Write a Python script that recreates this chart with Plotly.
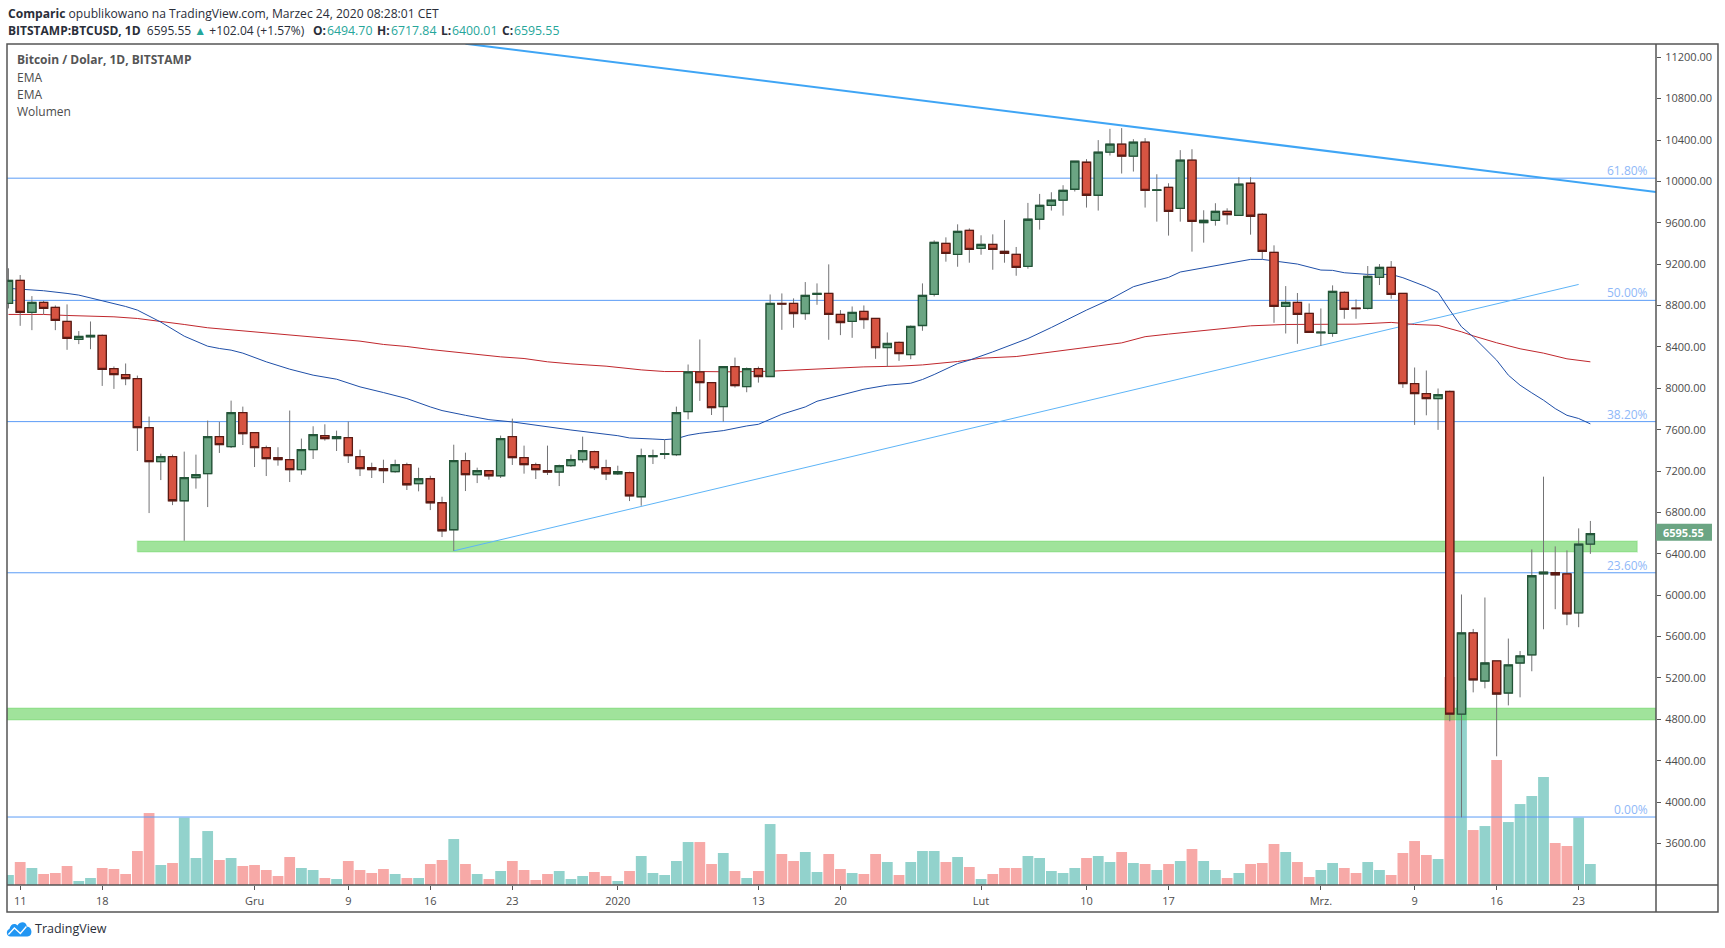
import pandas as pd
import plotly.graph_objects as go

# Dzienne dane BTCUSD, od 10 listopada 2019
dates = pd.date_range("2019-11-10", "2020-03-24", freq="D").strftime("%Y-%m-%d").tolist()

opens = [
    8820, 9043, 8733, 8830, 8782, 8646, 8472, 8498, 8511, 8191, 8133, 8094, 7620, 7291, 7339, 6913,
    7136, 7175, 7533, 7436, 7765, 7572, 7427, 7330, 7310, 7213, 7407, 7543, 7514, 7523, 7339, 7233,
    7223, 7194, 7262, 7078, 7126, 6894, 6633, 7301, 7165, 7204, 7155, 7533, 7330, 7262, 7204, 7191,
    7252, 7310, 7387, 7233, 7174, 7184, 6952, 7339, 7362, 7358, 7775, 8159, 8055, 7823, 8210, 8017,
    8191, 8114, 8820, 8820, 8723, 8907, 8917, 8714, 8646, 8743, 8675, 8394, 8443, 8326, 8607, 8907,
    9401, 9295, 9527, 9353, 9391, 9324, 9295, 9179, 9634, 9769, 9818, 9924, 10185, 9866, 10282, 10360,
    10244, 10379, 9914, 9943, 9740, 10205, 9601, 9624, 9711, 9672, 9982, 9682, 9314, 8791, 8830, 8724,
    8537, 8530, 8927, 8775, 8772, 9072, 9169, 8917, 8046, 7949, 7901, 7969, 4851, 5636, 5171, 5365,
    5055, 5345, 5423, 6207, 6217, 6207, 5829, 6494.70,
]
highs = [
    9160, 9095, 8891, 8846, 8801, 8811, 8553, 8646, 8520, 8211, 8240, 8123, 7727, 7368, 7359, 7388,
    7359, 7688, 7675, 7881, 7823, 7572, 7446, 7430, 7785, 7514, 7633, 7652, 7591, 7678, 7407, 7281,
    7310, 7310, 7281, 7233, 7155, 6952, 7455, 7378, 7233, 7204, 7543, 7707, 7446, 7281, 7446, 7262,
    7359, 7533, 7397, 7310, 7252, 7194, 7417, 7407, 7504, 7823, 8230, 8472, 8055, 8210, 8297, 8201,
    8210, 8907, 8917, 8869, 9027, 9014, 9198, 8756, 8791, 8801, 8675, 8540, 8452, 8607, 9014, 9430,
    9459, 9585, 9546, 9479, 9488, 9627, 9366, 9792, 9879, 9895, 9963, 10195, 10215, 10399, 10508, 10515,
    10408, 10418, 10069, 9982, 10302, 10311, 9721, 9789, 9740, 10040, 10040, 9692, 9382, 8988, 8921, 8820,
    8772, 8995, 8937, 8859, 9182, 9201, 9230, 8917, 8201, 8172, 7998, 7978, 6007, 5674, 5978, 5365,
    5581, 5461, 6443, 7146, 6472, 6433, 6646, 6717.84,
]
lows = [
    8772, 8604, 8562, 8714, 8562, 8372, 8427, 8378, 8023, 7994, 8030, 7394, 6794, 7113, 6871, 6526,
    7030, 6852, 7375, 7423, 7452, 7239, 7152, 7252, 7094, 7165, 7317, 7494, 7394, 7278, 7152, 7133,
    7084, 7184, 7017, 7004, 6823, 6562, 6429, 7007, 7084, 7117, 7133, 7259, 7175, 7123, 7162, 7055,
    7240, 7281, 7210, 7113, 7162, 6910, 6865, 7268, 7316, 7345, 7700, 7878, 7742, 7678, 8007, 7962,
    8055, 8114, 8565, 8585, 8662, 8807, 8469, 8514, 8488, 8575, 8285, 8210, 8265, 8281, 8556, 8888,
    9224, 9175, 9214, 9291, 9146, 9214, 9088, 9156, 9534, 9718, 9669, 9902, 9747, 9718, 10250, 10076,
    10095, 9747, 9611, 9476, 9611, 9321, 9408, 9572, 9582, 9672, 9485, 9250, 8633, 8530, 8430, 8540,
    8411, 8498, 8672, 8672, 8762, 8998, 8866, 8004, 7646, 7739, 7598, 4782, 3853, 5061, 5100, 4443,
    4935, 5013, 5265, 5671, 5865, 5710, 5691, 6400.01,
]
closes = [
    9043, 8733, 8830, 8772, 8656, 8482, 8501, 8511, 8182, 8133, 8094, 7620, 7291, 7339, 6913, 7136,
    7165, 7533, 7456, 7765, 7562, 7427, 7320, 7310, 7213, 7407, 7552, 7514, 7533, 7349, 7223, 7213,
    7204, 7262, 7068, 7126, 6894, 6623, 7301, 7165, 7204, 7155, 7514, 7330, 7262, 7213, 7191, 7252,
    7310, 7397, 7233, 7174, 7194, 6961, 7349, 7349, 7368, 7765, 8159, 8055, 7813, 8210, 8026, 8191,
    8114, 8820, 8815, 8723, 8898, 8917, 8714, 8636, 8733, 8665, 8394, 8433, 8336, 8598, 8898, 9411,
    9304, 9517, 9343, 9391, 9343, 9305, 9169, 9634, 9769, 9818, 9914, 10195, 9866, 10282, 10360, 10244,
    10379, 9914, 9918, 9711, 10205, 9614, 9624, 9711, 9679, 9973, 9663, 9324, 8791, 8830, 8714, 8540,
    8543, 8937, 8762, 8770, 9082, 9169, 8908, 8046, 7949, 7901, 7939, 4851, 5636, 5181, 5345, 5045,
    5326, 5413, 6188, 6223, 6197, 5820, 6493.51, 6595.55,
]
# tys. BTC
volumes = [
    3.0, 6.9, 5.1, 3.3, 3.6, 5.7, 1.2, 2.1, 5.1, 4.8, 3.3, 10.2, 21.6, 6.0, 6.6, 20.2,
    8.1, 16.2, 7.5, 8.1, 5.7, 6.0, 4.5, 2.7, 8.4, 5.1, 4.5, 2.1, 1.8, 7.2, 4.5, 3.6,
    4.8, 3.3, 2.1, 2.1, 6.3, 7.5, 13.8, 6.3, 3.3, 1.8, 4.2, 7.2, 4.5, 1.5, 3.3, 4.2,
    1.8, 2.7, 3.9, 2.7, 1.2, 4.2, 8.7, 3.6, 3.0, 7.2, 12.9, 12.9, 6.3, 9.6, 4.2, 2.1,
    4.2, 18.3, 9.3, 7.2, 9.9, 3.9, 9.3, 4.8, 3.6, 3.3, 9.3, 6.9, 3.0, 6.9, 10.2, 10.2,
    6.9, 8.4, 5.4, 1.8, 3.3, 5.1, 5.1, 8.7, 8.1, 4.2, 3.6, 5.1, 8.1, 8.7, 6.9, 9.9,
    6.6, 6.3, 4.5, 6.3, 7.2, 10.8, 7.2, 4.5, 2.1, 3.6, 6.3, 6.6, 12.3, 9.9, 6.9, 2.4,
    4.5, 6.6, 5.1, 3.6, 6.9, 4.5, 3.0, 9.6, 13.2, 9.0, 7.8, 62.4, 58.5, 16.5, 17.7, 37.5,
    18.9, 24.3, 26.7, 32.4, 12.6, 11.7, 20.2, 6.3,
]

ema_fast_dates = [
    "2019-11-10", "2019-11-13", "2019-11-15", "2019-11-16", "2019-11-18", "2019-11-20", "2019-11-21", "2019-11-23",
    "2019-11-25", "2019-11-27", "2019-11-28", "2019-11-29", "2019-11-30", "2019-12-02", "2019-12-04", "2019-12-06",
    "2019-12-08", "2019-12-10", "2019-12-12", "2019-12-14", "2019-12-16", "2019-12-17", "2019-12-19", "2019-12-21",
    "2019-12-23", "2019-12-25", "2019-12-27", "2019-12-28", "2020-01-01", "2020-01-02", "2020-01-04", "2020-01-05",
    "2020-01-06", "2020-01-07", "2020-01-08", "2020-01-09", "2020-01-10", "2020-01-12", "2020-01-13", "2020-01-15",
    "2020-01-17", "2020-01-18", "2020-01-20", "2020-01-22", "2020-01-24", "2020-01-26", "2020-01-27", "2020-01-28",
    "2020-01-30", "2020-01-31", "2020-02-02", "2020-02-04", "2020-02-05", "2020-02-07", "2020-02-09", "2020-02-10",
    "2020-02-12", "2020-02-14", "2020-02-15", "2020-02-17", "2020-02-18", "2020-02-20", "2020-02-22", "2020-02-24",
    "2020-02-25", "2020-02-27", "2020-02-28", "2020-03-01", "2020-03-02", "2020-03-03", "2020-03-05", "2020-03-07",
    "2020-03-08", "2020-03-10", "2020-03-11", "2020-03-12", "2020-03-13", "2020-03-14", "2020-03-15", "2020-03-16",
    "2020-03-17", "2020-03-18", "2020-03-19", "2020-03-20", "2020-03-21", "2020-03-22", "2020-03-23", "2020-03-24",
]
ema_fast = [
    8966, 8943, 8917, 8901, 8846, 8791, 8756, 8640, 8504, 8407, 8385, 8369, 8340, 8256, 8185, 8127,
    8088, 8014, 7959, 7901, 7820, 7785, 7739, 7697, 7675, 7643, 7610, 7597, 7542, 7520, 7510, 7504,
    7513, 7546, 7565, 7575, 7591, 7636, 7652, 7749, 7820, 7875, 7933, 7991, 8030, 8049, 8085, 8133,
    8239, 8272, 8352, 8436, 8481, 8588, 8701, 8756, 8859, 8982, 9014, 9072, 9124, 9166, 9201, 9246,
    9246, 9217, 9201, 9143, 9140, 9117, 9101, 9101, 9069, 8982, 8927, 8756, 8595, 8498, 8385, 8272,
    8127, 8030, 7956, 7885, 7804, 7739, 7708, 7656,
]
ema_slow_dates = [
    "2019-11-10", "2019-11-13", "2019-11-15", "2019-11-17", "2019-11-19", "2019-11-21", "2019-11-23", "2019-11-25",
    "2019-11-27", "2019-11-30", "2019-12-02", "2019-12-04", "2019-12-07", "2019-12-10", "2019-12-12", "2019-12-14",
    "2019-12-16", "2019-12-18", "2019-12-20", "2019-12-22", "2019-12-24", "2019-12-26", "2019-12-28", "2019-12-31",
    "2020-01-03", "2020-01-05", "2020-01-08", "2020-01-11", "2020-01-14", "2020-01-16", "2020-01-19", "2020-01-22",
    "2020-01-25", "2020-01-27", "2020-01-30", "2020-02-01", "2020-02-04", "2020-02-07", "2020-02-09", "2020-02-11",
    "2020-02-13", "2020-02-15", "2020-02-17", "2020-02-19", "2020-02-22", "2020-02-24", "2020-02-27", "2020-03-01",
    "2020-03-04", "2020-03-07", "2020-03-09", "2020-03-11", "2020-03-13", "2020-03-14", "2020-03-16", "2020-03-18",
    "2020-03-20", "2020-03-22", "2020-03-24",
]
ema_slow = [
    8714, 8714, 8704, 8701, 8691, 8675, 8649, 8617, 8585, 8556, 8537, 8511, 8482, 8456, 8424, 8404,
    8375, 8349, 8330, 8304, 8288, 8256, 8236, 8214, 8178, 8162, 8162, 8159, 8165, 8175, 8191, 8207,
    8214, 8226, 8259, 8291, 8307, 8349, 8375, 8410, 8439, 8499, 8524, 8546, 8575, 8604, 8617, 8617,
    8620, 8637, 8617, 8608, 8546, 8507, 8440, 8382, 8340, 8285, 8256,
]

fib_levels = [10031, 8850, 7678, 6217, 3856]
fib_labels = ["61.80%", "50.00%", "38.20%", "23.60%", "0.00%"]

price_ticks = list(range(3600, 11600, 400))
date_ticks = [
    "2019-11-11", "2019-11-18", "2019-12-01", "2019-12-09", "2019-12-16", "2019-12-23", "2020-01-01", "2020-01-13",
    "2020-01-20", "2020-02-01", "2020-02-10", "2020-02-17", "2020-03-01", "2020-03-09", "2020-03-16", "2020-03-23",
]
date_tick_labels = ["11", "18", "Gru", "9", "16", "23", "2020", "13", "20", "Lut", "10", "17", "Mrz.", "9", "16", "23"]

# Linie i strefy narysowane na wykresie
down_trend_dates = ["2019-12-19", "2020-03-29 14:24"]
down_trend_prices = [11331, 9898]
up_trend_dates = ["2019-12-18", "2020-03-23"]
up_trend_prices = [6429, 9004]
upper_zone_dates = ["2019-11-21", "2020-03-28"]
upper_zone_prices = [6417, 6523]
lower_zone_dates = ["2019-11-09 21:00", "2020-03-29 14:24"]
lower_zone_prices = [4795, 4911]

X_RANGE = ["2019-11-09 21:00", "2020-03-29 14:24"]
PRICE_RANGE = [3199, 11328]
VOLUME_RANGE = [0, 252.45]

WIDTH, HEIGHT = 1725, 948
LEFT, RIGHT, TOP, BOTTOM = 6.6, 1656, 44, 885.5
FRAME_RIGHT, FRAME_BOTTOM = 1718, 912.5

UP_COLOR, DOWN_COLOR = "#6ba583", "#d75442"
UP_BORDER, DOWN_BORDER = "#225437", "#5b1a13"
WICK_COLOR = "#737375"
VOL_UP, VOL_DOWN = "#92d2cc", "#f7a9a7"
FIB_COLOR = "#5b9cf6"
ZONE_FILL = "rgba(65,199,55,0.5)"
ZONE_EDGE = "rgba(65,199,55,0.2)"
FRAME_COLOR = "#555555"
TEXT_COLOR = "#4c4c4c"
HEADER_COLOR = "#2a2e39"
VALUE_COLOR = "#26a69a"
LOGO_COLOR = "#2196f3"
FONT = "Open Sans"


def px_x(x):
    "Piksele okna na współrzędne paper"
    return (x - LEFT) / (RIGHT - LEFT)


def px_y(y):
    return (BOTTOM - y) / (BOTTOM - TOP)


def zone_trace(x_pair, y_pair):
    "Prostokątna strefa jako ślad, żeby leżała nad wolumenem i pod świecami"
    return go.Scatter(
        x=[x_pair[0], x_pair[1], x_pair[1], x_pair[0], x_pair[0]],
        y=[y_pair[0], y_pair[0], y_pair[1], y_pair[1], y_pair[0]],
        mode="lines", fill="toself", fillcolor=ZONE_FILL,
        line=dict(color=ZONE_EDGE, width=1.5),
        yaxis="y2", hoverinfo="skip", showlegend=False,
    )


def text_note(x, y, text, size=12, color=TEXT_COLOR, anchor="left"):
    return dict(
        x=px_x(x), y=px_y(y), xref="paper", yref="paper", text=text,
        showarrow=False, xanchor=anchor, yanchor="middle",
        font=dict(family=FONT, size=size, color=color),
    )


def logo_path(points):
    "Ścieżka SVG z par (komenda, x, y, ...) w pikselach okna"
    parts = []
    for cmd, *coords in points:
        xy = [
            str(px_x(v)) if i % 2 == 0 else str(px_y(v))
            for i, v in enumerate(coords)
        ]
        parts.append(cmd + " " + " ".join(xy))
    return " ".join(parts) + " Z"


fig = go.Figure()

# 1. Wolumen na osi głównej
fig.add_trace(go.Bar(
    x=dates, y=volumes,
    marker=dict(color=[VOL_UP if c >= o else VOL_DOWN for o, c in zip(opens, closes)], line_width=0),
    yaxis="y", showlegend=False,
))

# 2. Strefy, fibonacci, trendy i średnie
fig.add_trace(zone_trace(upper_zone_dates, upper_zone_prices))
fig.add_trace(zone_trace(lower_zone_dates, lower_zone_prices))
for level in fib_levels:
    fig.add_trace(go.Scatter(
        x=X_RANGE, y=[level, level], mode="lines",
        line=dict(color=FIB_COLOR, width=1), yaxis="y2", showlegend=False,
    ))
fig.add_trace(go.Scatter(
    x=up_trend_dates, y=up_trend_prices, mode="lines",
    line=dict(color="#5db4f7", width=1), yaxis="y2", showlegend=False,
))
fig.add_trace(go.Scatter(
    x=down_trend_dates, y=down_trend_prices, mode="lines",
    line=dict(color="#3fa5f5", width=2), yaxis="y2", showlegend=False,
))
fig.add_trace(go.Scatter(
    x=ema_slow_dates, y=ema_slow, mode="lines",
    line=dict(color="#c0272d", width=1), yaxis="y2", name="EMA", showlegend=False,
))
fig.add_trace(go.Scatter(
    x=ema_fast_dates, y=ema_fast, mode="lines",
    line=dict(color="#1f4fa8", width=1), yaxis="y2", name="EMA", showlegend=False,
))

# 3. Świece: najpierw knoty, potem korpusy z obwódką
fig.add_trace(go.Candlestick(
    x=dates, open=opens, high=highs, low=lows, close=closes,
    increasing=dict(line=dict(color=WICK_COLOR, width=1), fillcolor=WICK_COLOR),
    decreasing=dict(line=dict(color=WICK_COLOR, width=1), fillcolor=WICK_COLOR),
    yaxis="y3", showlegend=False,
))
fig.add_trace(go.Candlestick(
    x=dates, open=opens, close=closes,
    high=[max(o, c) for o, c in zip(opens, closes)],
    low=[min(o, c) for o, c in zip(opens, closes)],
    increasing=dict(line=dict(color=UP_BORDER, width=1.3), fillcolor=UP_COLOR),
    decreasing=dict(line=dict(color=DOWN_BORDER, width=1.3), fillcolor=DOWN_COLOR),
    yaxis="y3", showlegend=False,
))

header_1 = "<b>Comparic</b> opublikowano na TradingView.com, Marzec 24, 2020 08:28:01 CET"
header_2 = (
    "<b>BITSTAMP:BTCUSD, 1D</b>  6595.55 <span style='color:#26a69a'>▲</span> +102.04 (+1.57%)"
)
annotations = [
    text_note(5.5, 13, header_1, size=12.1, color=HEADER_COLOR),
    text_note(5.5, 30, header_2, size=12, color=HEADER_COLOR),
    text_note(311, 30, "<b>O:</b>", color=HEADER_COLOR),
    text_note(325, 30, "6494.70", size=12.3, color=VALUE_COLOR),
    text_note(375, 30, "<b>H:</b>", color=HEADER_COLOR),
    text_note(388.6, 30, "6717.84", size=12.3, color=VALUE_COLOR),
    text_note(439, 30, "<b>L:</b>", color=HEADER_COLOR),
    text_note(450, 30, "6400.01", size=12.3, color=VALUE_COLOR),
    text_note(500, 30, "<b>C:</b>", color=HEADER_COLOR),
    text_note(512, 30, "6595.55", size=12.3, color=VALUE_COLOR),
    text_note(14.5, 60, "<b>Bitcoin / Dolar, 1D, BITSTAMP</b>", size=12, color="#555555"),
    text_note(14.5, 77.5, "EMA", size=12),
    text_note(14.5, 94.5, "EMA", size=12),
    text_note(14.5, 111.5, "Wolumen", size=12),
    text_note(33, 929, "TradingView", size=12.5, color=HEADER_COLOR),
    text_note(1684, 532.5, "<b>6595.55</b>", size=11, color="white", anchor="center"),
]
for level, label in zip(fib_levels, fib_labels):
    annotations.append(dict(
        x=px_x(1650), y=level, xref="paper", yref="y2", text=label, showarrow=False,
        xanchor="right", yanchor="bottom", yshift=-3,
        font=dict(family=FONT, size=12, color="#8fb8f8"),
    ))

frame_line = dict(color=FRAME_COLOR, width=1.5)
shapes = [
    dict(type="rect", xref="paper", yref="paper", line=frame_line,
         x0=px_x(LEFT), x1=px_x(FRAME_RIGHT), y0=px_y(FRAME_BOTTOM), y1=px_y(TOP)),
    dict(type="line", xref="paper", yref="paper", x0=px_x(RIGHT), x1=px_x(RIGHT),
         y0=px_y(FRAME_BOTTOM), y1=px_y(TOP), line=frame_line),
    dict(type="line", xref="paper", yref="paper", x0=px_x(LEFT), x1=px_x(FRAME_RIGHT),
         y0=px_y(BOTTOM), y1=px_y(BOTTOM), line=frame_line),
    # Etykieta ostatniej ceny
    dict(type="rect", xref="paper", yref="paper", x0=px_x(RIGHT), x1=px_x(1712),
         y0=px_y(541), y1=px_y(524), fillcolor=UP_COLOR, line_width=0, layer="above"),
    # Logo: chmura i biała linia w środku
    dict(type="path", xref="paper", yref="paper", fillcolor=LOGO_COLOR, line_width=0,
         path=logo_path([
             ("M", 10, 937),
             ("C", 6, 937, 5, 931, 9, 929.5),
             ("C", 10, 925, 14, 923, 17, 926),
             ("C", 20, 921, 26, 922, 26.5, 927),
             ("C", 32, 927, 33, 937, 27, 937),
         ])),
    dict(type="path", xref="paper", yref="paper", line=dict(color="white", width=1.3),
         path=logo_path([("M", 8, 935), ("L", 14, 928.5), ("L", 20, 934), ("L", 26, 927)]).replace(" Z", "")),
]

fig.update_layout(
    width=WIDTH, height=HEIGHT,
    margin=dict(l=LEFT, r=WIDTH - RIGHT, t=TOP, b=HEIGHT - BOTTOM, pad=0),
    paper_bgcolor="white", plot_bgcolor="white",
    showlegend=False, bargap=0.08, boxgap=0.3, boxgroupgap=0,
    font=dict(family=FONT, color=TEXT_COLOR),
    annotations=annotations, shapes=shapes,
    xaxis=dict(
        type="date", range=X_RANGE, rangeslider=dict(visible=False), showgrid=False, zeroline=False,
        tickmode="array", tickvals=date_ticks, ticktext=date_tick_labels,
        ticks="outside", ticklen=4, tickcolor=FRAME_COLOR, tickwidth=1, ticklabelstandoff=2,
        tickfont=dict(family=FONT, size=11, color=TEXT_COLOR), showline=False,
    ),
    yaxis=dict(range=VOLUME_RANGE, visible=False, fixedrange=True),
    yaxis2=dict(
        range=PRICE_RANGE, overlaying="y", side="right", anchor="x", showgrid=False, zeroline=False,
        tickmode="array", tickvals=price_ticks, tickformat=".2f",
        ticks="outside", ticklen=4, tickcolor=FRAME_COLOR, tickwidth=1, ticklabelstandoff=2,
        tickfont=dict(family=FONT, size=11, color=TEXT_COLOR), showline=False,
    ),
    yaxis3=dict(range=PRICE_RANGE, overlaying="y", side="right", anchor="x", visible=False),
)

fig.write_html("out.html", config={"displayModeBar": False}, post_script="document.body.style.margin='0';")
